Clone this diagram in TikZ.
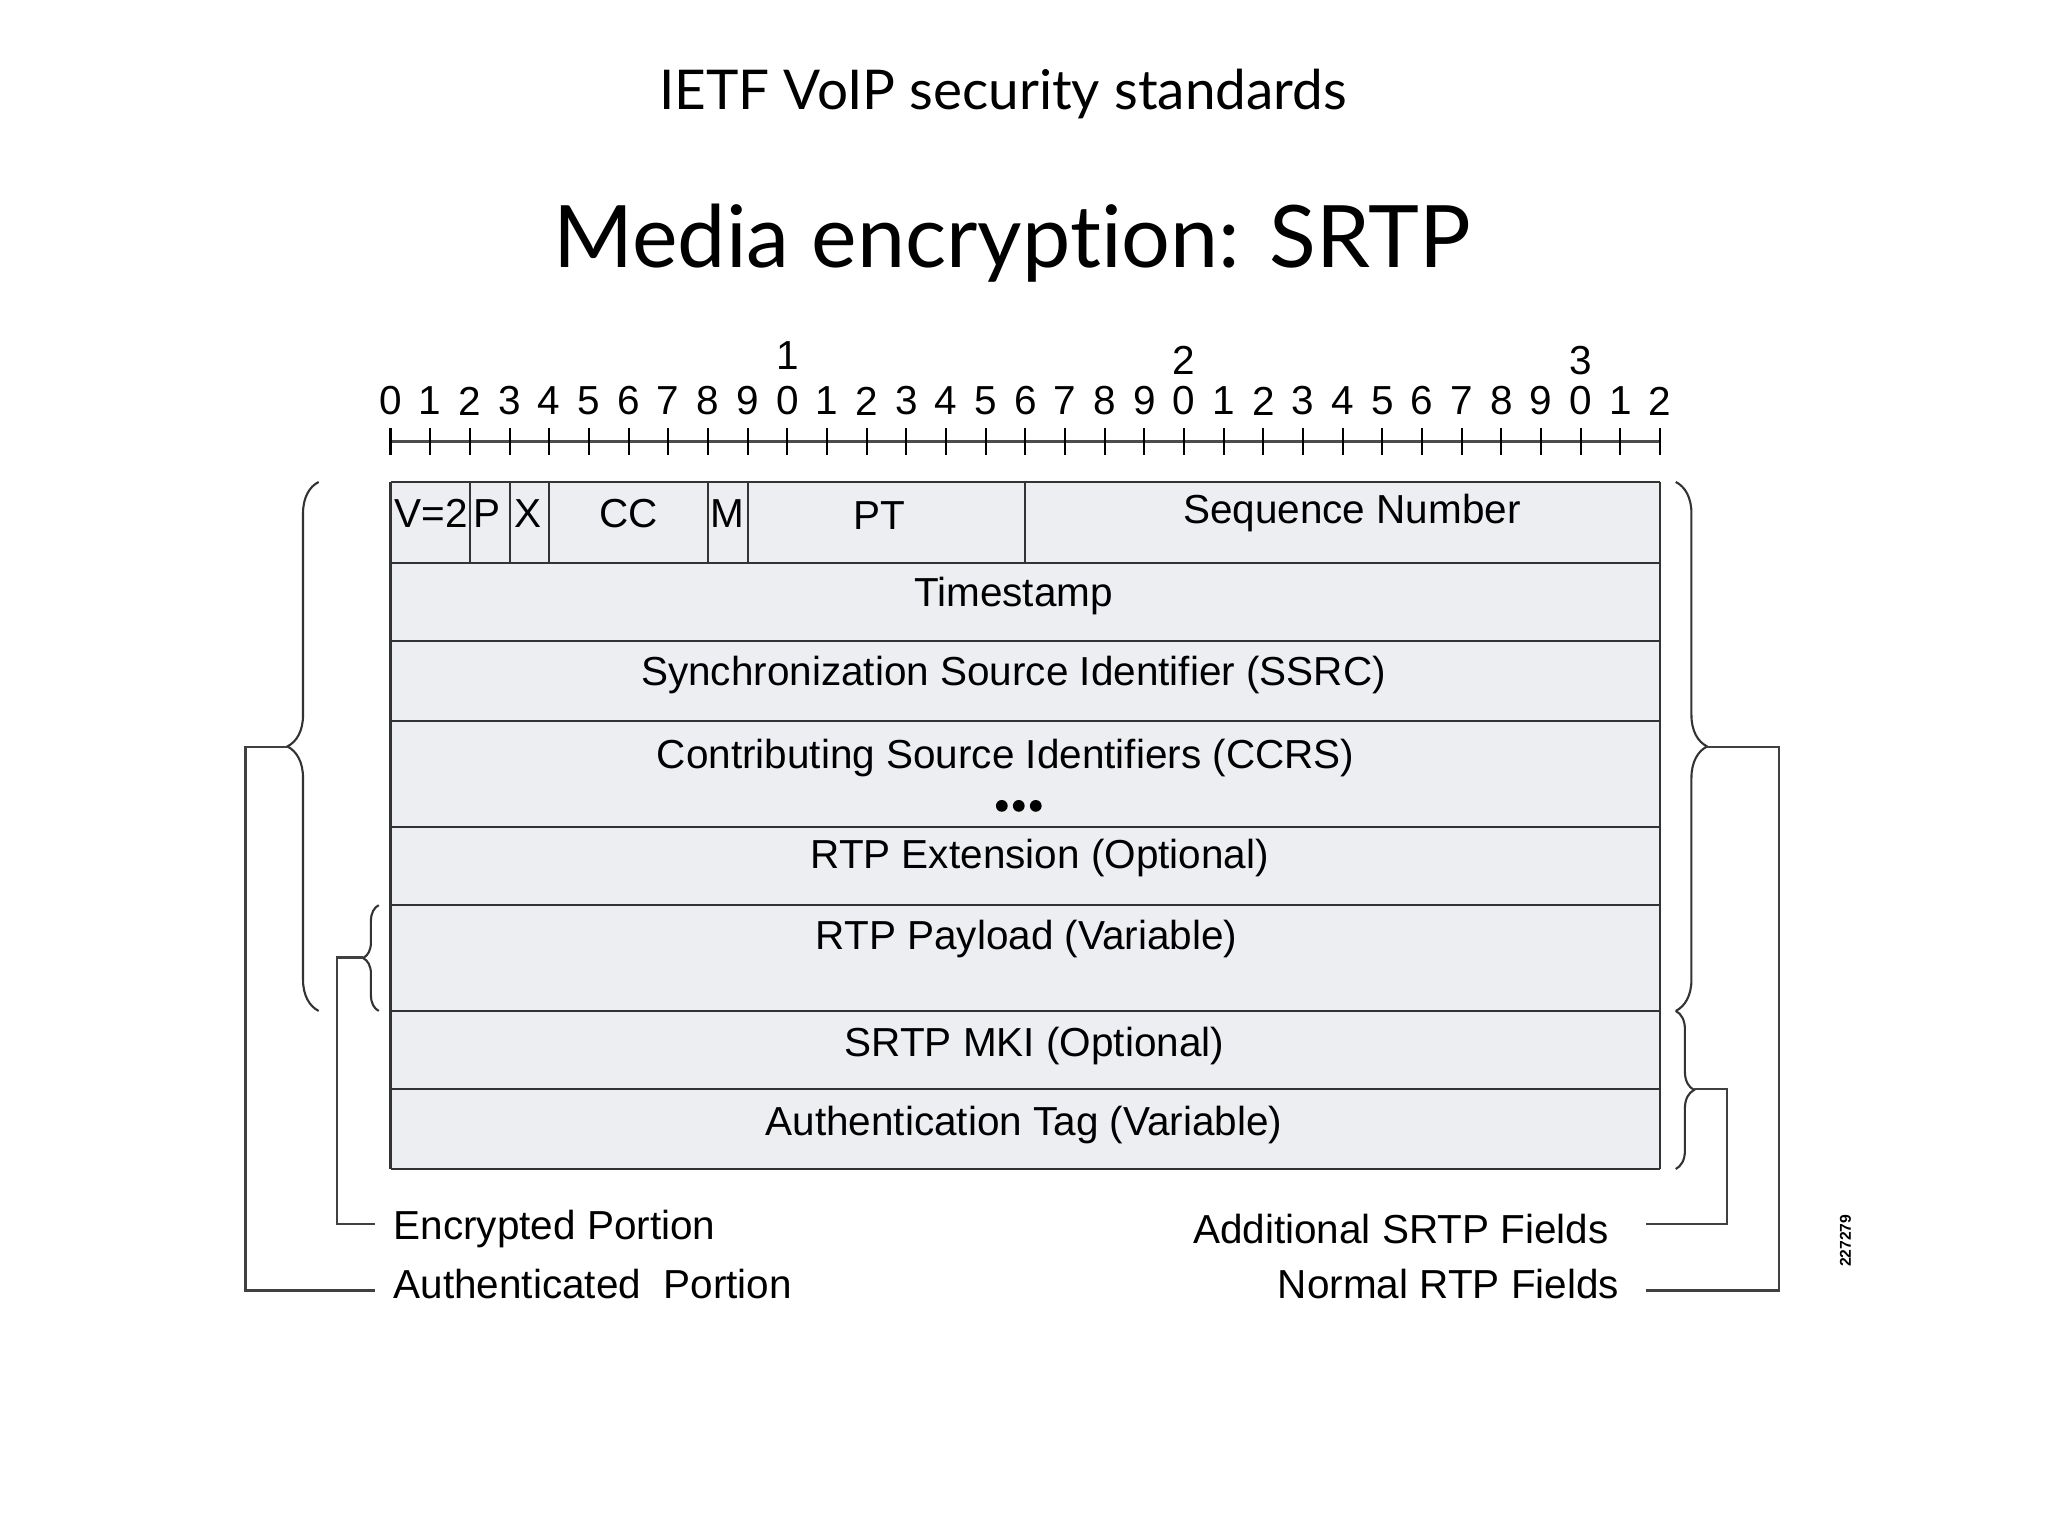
\documentclass[tikz,border=0pt]{standalone}
\usepackage{fontspec}
\setmainfont{Liberation Sans}
\newfontfamily\titlefont[Ligatures={NoCommon,NoDiscretionary}]{Lato}
\usetikzlibrary{decorations.pathreplacing}
\definecolor{fldfill}{HTML}{ECEEF1}
\begin{document}
\begin{tikzpicture}[x=0.5pt,y=-0.5pt,
  lbl/.style={font=\fontsize{15.5}{17}\selectfont, inner sep=0pt},
  fld/.style={draw=black!80, line width=0.8pt},
  lead/.style={draw=black!75, line width=0.9pt},
  brc/.style={draw=black!80, line width=0.8pt, decorate, decoration={brace, amplitude=#1}}]
\useasboundingbox (0,0) rectangle (1568,1176);
\fill[white] (0,0) rectangle (1568,1176);
\node[font=\titlefont\fontsize{21}{24}\selectfont] (t1) at (768,72) {IETF VoIP security standards};
\node[font=\titlefont\fontsize{33}{38}\selectfont] (t2) at (775,186) {Media encryption: SRTP};
% ruler
\draw[line width=1pt, black!70] (299,338) -- (1271,338);
\foreach \i in {0,...,32}{
  \pgfmathtruncatemacro{\d}{mod(\i,10)}
  \draw[line width=0.8pt] ({299+30.375*\i},328) -- ({299+30.375*\i},348);
  \node[lbl] (n\i) at ({299+30.375*\i},307) {\d};
}
\node[lbl] (ta) at ({299+30.375*10},272) {1};
\node[lbl] (tb) at ({299+30.375*20},276) {2};
\node[lbl] (tc) at ({299+30.375*30},276) {3};
% fields
\fill[fldfill] (299,369) rectangle (1271,895);
\foreach \y in {369,431,491,552,633,693,774,834,895}{\draw[fld] (299,\y) -- (1271,\y);}
\draw[fld] (299,369) -- (299,895);
\draw[fld] (1271,369) -- (1271,895);
\foreach \b in {2,3,4,8,9,16}{\draw[fld] ({299+30.375*\b},369) -- ({299+30.375*\b},431);}
\node[lbl] (v) at (330,393) {V=2};
\node[lbl] (p) at (373,393) {P};
\node[lbl] (x) at (404,393) {X};
\node[lbl] (cc) at (481,393) {CC};
\node[lbl] (m) at (557,393) {M};
\node[lbl] (pt) at (673,395) {PT};
\node[lbl] (seq) at (1035,393) {Sequence Number};
\node[lbl] (ts) at (776,456) {Timestamp};
\node[lbl] (ssrc) at (776,517) {Synchronization Source Identifier (SSRC)};
\node[lbl] (ccrs) at (770,580) {Contributing Source Identifiers (CCRS)};
\foreach \dx in {-13,0,13}{\fill (780+\dx,617) circle (4.5);}
\node[lbl] (ext) at (796,657) {RTP Extension (Optional)};
\node[lbl] (pay) at (786,719) {RTP Payload (Variable)};
\node[lbl] (mki) at (792,801) {SRTP MKI (Optional)};
\node[lbl] (tag) at (784,861) {Authentication Tag (Variable)};
% braces
\draw[brc=12pt] (244,774) -- (244,369);
\draw[brc=6pt] (290,774) -- (290,693);
\draw[brc=12pt] (1283,369) -- (1283,774);
\draw[brc=7pt] (1283,774) -- (1283,895);
% labels
\node[lbl, anchor=west] (ap) at (301,983) {Authenticated\ \ Portion};
\node[lbl, anchor=west] (ep) at (301,941) {Encrypted Portion};
\node[lbl, anchor=east] (nr) at (1240,983) {Normal RTP Fields};
\node[lbl, anchor=east] (as) at (1232,941) {Additional SRTP Fields};
\coordinate (lb) at (220,572);
\coordinate (sb) at (278,733);
\coordinate (rb) at (1307,572);
\coordinate (rs) at (1297,834);
\draw[lead] (lb) -- (188,572) -- (188,988) -- (287,988);
\draw[lead] (sb) -- (258,733) -- (258,937) -- (287,937);
\draw[lead] (rb) -- (1362,572) -- (1362,988) -- (1260,988);
\draw[lead] (rs) -- (1322,834) -- (1322,937) -- (1260,937);
\node[font=\fontsize{6}{7}\selectfont\bfseries, rotate=90, inner sep=0pt] (id) at (1413,950) {227279};
\end{tikzpicture}
\end{document}
